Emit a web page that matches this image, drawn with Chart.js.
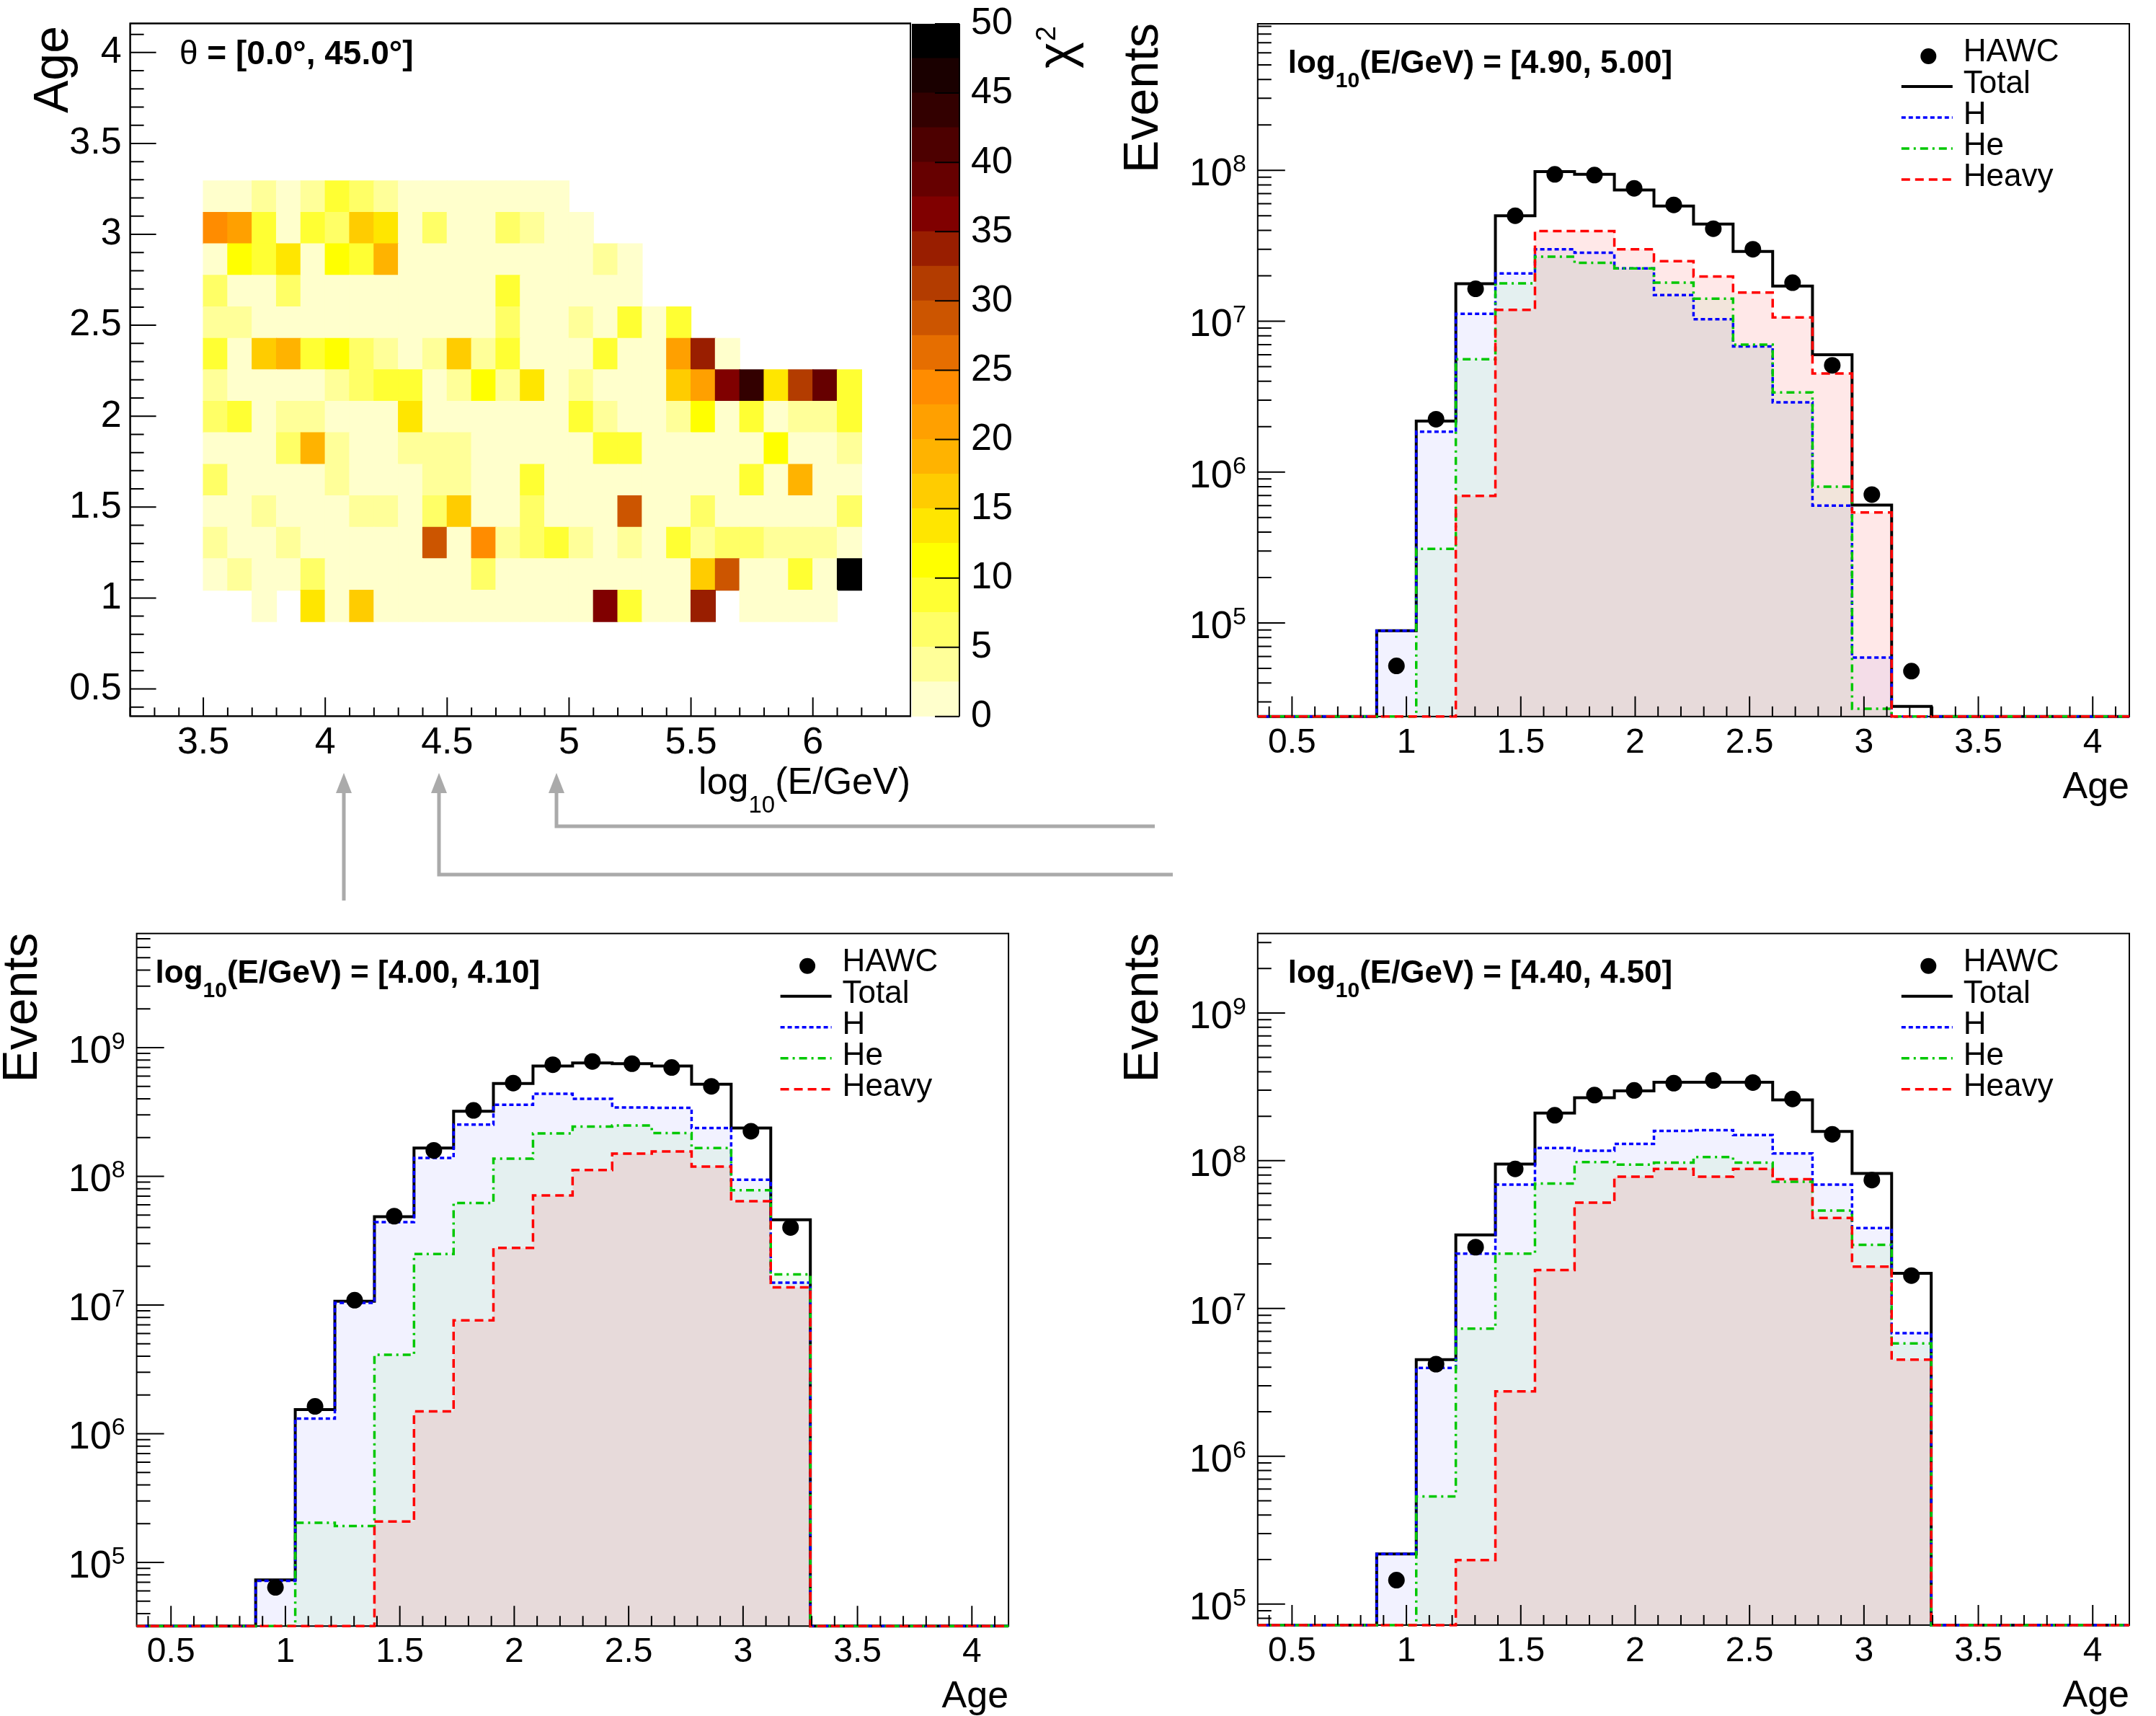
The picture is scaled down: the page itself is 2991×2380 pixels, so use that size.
<!DOCTYPE html>
<html>
<head>
<meta charset="utf-8">
<title>HAWC shower age: chi2 map and age distributions</title>
<script src="https://cdn.jsdelivr.net/npm/chart.js@4.4.1/dist/chart.umd.min.js"></script>
<style>
  html, body { margin: 0; padding: 0; background: #fff; }
  body { width: 2991px; height: 2380px; position: relative; overflow: hidden; }
  canvas { position: absolute; }
  svg { position: absolute; left: 0; top: 0; }
</style>
</head>
<body>
<canvas id="chi2Map" width="1265" height="1130" style="left:0;top:0"></canvas>
<canvas id="chi2Scale" width="300" height="1060" style="left:1265px;top:0"></canvas>
<canvas id="ageE490" width="1491" height="1150" style="left:1500px;top:0"></canvas>
<canvas id="ageE400" width="1450" height="1130" style="left:0;top:1250px"></canvas>
<canvas id="ageE440" width="1491" height="1130" style="left:1500px;top:1250px"></canvas>

<svg width="2991" height="2380">
  <g stroke="#aaaaaa" stroke-width="5" fill="none">
    <polyline points="477,1249 477,1096"/>
    <polyline points="1627,1213 609,1213 609,1096"/>
    <polyline points="1602,1146 772,1146 772,1096"/>
  </g>
  <g fill="#aaaaaa">
    <polygon points="477,1072 466,1100 488,1100"/>
    <polygon points="609,1072 598,1100 620,1100"/>
    <polygon points="772,1072 761,1100 783,1100"/>
  </g>
</svg>

<script>
// ---------- chi2 map ----------
const energyEdges = [3.5, 3.6, 3.7, 3.8, 3.9, 4.0, 4.1, 4.2, 4.3, 4.4, 4.5, 4.6, 4.7, 4.8, 4.9,
  5.0, 5.1, 5.2, 5.3, 5.4, 5.5, 5.6, 5.7, 5.8, 5.9, 6.0, 6.1, 6.2];
// shower age bins, shared by the map rows and the histograms
const ageEdges = [0.350, 0.523, 0.696, 0.870, 1.043, 1.216, 1.389, 1.562, 1.735, 1.909, 2.082, 2.255,
  2.428, 2.601, 2.775, 2.948, 3.121, 3.294, 3.467, 3.640, 3.814, 3.987, 4.160];
const mapFirstAgeBin = 3; // first map row is the 0.87-1.04 age bin

// chi2 per cell, one row per age bin (lowest first), one entry per energy bin, null = empty
const chi2Rows = [
  [null, null, 1, null, 14, 1, 16, 1, 1, 1, 1, 1, 1, 1, 1, 1, 36, 9, 1, 1, 34, null, 1, 1, 1, 1, null],
  [1, 4, 1, 1, 6, 1, 1, 1, 1, 1, 1, 6, 1, 1, 1, 1, 1, 1, 1, 1, 16, 29, 1, 1, 9, 1, 49],
  [4, 1, 1, 4, 1, 1, 1, 1, 1, 29, 1, 24, 4, 6, 9, 4, 1, 4, 1, 9, 4, 6, 6, 4, 4, 4, 1],
  [1, 1, 4, 1, 1, 1, 4, 4, 1, 6, 16, 1, 1, 6, 1, 1, 1, 29, 1, 1, 6, 1, 1, 1, 1, 1, 6],
  [6, 1, 1, 1, 1, 4, 1, 1, 1, 4, 4, 1, 1, 9, 1, 1, 1, 1, 1, 1, 1, 1, 9, 1, 19, 1, 1],
  [1, 1, 1, 6, 19, 4, 1, 1, 4, 4, 4, 1, 1, 1, 1, 1, 9, 9, 1, 1, 1, 1, 1, 11, 1, 1, 4],
  [6, 9, 1, 4, 4, 1, 1, 1, 14, 1, 1, 1, 1, 1, 1, 9, 4, 1, 1, 4, 11, 1, 9, 1, 4, 4, 9],
  [4, 1, 1, 1, 1, 4, 6, 9, 9, 1, 4, 11, 4, 14, 1, 4, 1, 1, 1, 16, 21, 36, 44, 14, 31, 39, 9],
  [9, 1, 16, 19, 9, 11, 6, 4, 1, 4, 16, 4, 9, 1, 1, 1, 9, 1, 1, 21, 34, 1],
  [4, 4, 1, 1, 1, 1, 1, 1, 1, 1, 1, 1, 6, 1, 1, 4, 1, 9, 1, 9],
  [6, 1, 1, 6, 1, 1, 1, 1, 1, 1, 1, 1, 9, 1, 1, 1, 1, 1],
  [1, 11, 9, 14, 1, 11, 9, 19, 1, 1, 1, 1, 1, 1, 1, 1, 4, 1],
  [24, 21, 9, 1, 9, 6, 16, 14, 1, 6, 1, 1, 6, 4, 1, 1],
  [1, 1, 4, 1, 4, 9, 6, 4, 1, 1, 1, 1, 1, 1, 1]
];
const chi2Levels = [0, 2.5, 5, 7.5, 10, 12.5, 15, 17.5, 20, 22.5, 25, 27.5, 30, 32.5, 35, 37.5, 40, 42.5, 45, 47.5, 50];
const chi2Palette = ['#ffffcc', '#ffff99', '#ffff66', '#ffff33', '#ffff00', '#ffe600', '#ffcc00', '#ffb300',
  '#ffa000', '#ff8c00', '#e66e00', '#cc5500', '#b33c00', '#991e00', '#800000', '#660000', '#4d0000',
  '#330000', '#1a0000', '#000000'];
const mapAgeTicks = [0.5, 1, 1.5, 2, 2.5, 3, 3.5, 4];
const mapEnergyTicks = [3.5, 4, 4.5, 5, 5.5, 6];
const chi2Ticks = [0, 5, 10, 15, 20, 25, 30, 35, 40, 45, 50];

// ---------- age histograms (events per age bin, 0 = empty bin) ----------
const histAgeTicks = [0.5, 1, 1.5, 2, 2.5, 3, 3.5, 4];

// log10(E/GeV) = [4.90, 5.00]
const hawcE490  = [null, null, null, 5.2e4, 2.24e6, 1.64e7, 5.0e7, 9.4e7, 9.3e7, 7.6e7, 5.9e7, 4.1e7, 3.0e7, 1.8e7, 5.1e6, 7.1e5, 4.8e4, null, null, null, null, null];
const totalE490 = [0, 0, 0, 8.9e4, 2.18e6, 1.77e7, 5.0e7, 9.8e7, 9.4e7, 7.4e7, 5.8e7, 4.4e7, 2.9e7, 1.71e7, 6.0e6, 6.05e5, 2.8e4, 0, 0, 0, 0, 0];
const hE490     = [0, 0, 0, 8.9e4, 1.85e6, 1.12e7, 2.07e7, 3.0e7, 2.84e7, 2.24e7, 1.49e7, 1.03e7, 6.8e6, 2.9e6, 6.0e5, 5.9e4, 0, 0, 0, 0, 0, 0];
const heE490    = [0, 0, 0, 0, 3.1e5, 5.6e6, 1.78e7, 2.68e7, 2.44e7, 2.24e7, 1.8e7, 1.41e7, 7.0e6, 3.37e6, 8.0e5, 2.7e4, 0, 0, 0, 0, 0, 0];
const heavyE490 = [0, 0, 0, 0, 0, 6.95e5, 1.19e7, 3.96e7, 3.96e7, 3.0e7, 2.5e7, 1.98e7, 1.55e7, 1.06e7, 4.5e6, 5.4e5, 0, 0, 0, 0, 0, 0];
const yRangeE490 = [2.4e4, 9.35e8];

// log10(E/GeV) = [4.00, 4.10]
const hawcE400  = [null, null, null, 6.4e4, 1.63e6, 1.09e7, 4.9e7, 1.59e8, 3.25e8, 5.3e8, 7.36e8, 7.8e8, 7.5e8, 7.0e8, 5.0e8, 2.24e8, 4.0e7, null, null, null, null, null];
const totalE400 = [0, 0, 0, 7.3e4, 1.54e6, 1.07e7, 4.86e7, 1.66e8, 3.2e8, 5.26e8, 7.2e8, 7.6e8, 7.5e8, 7.2e8, 5.2e8, 2.37e8, 4.6e7, 0, 0, 0, 0, 0];
const hE400     = [0, 0, 0, 7.2e4, 1.31e6, 1.04e7, 4.4e7, 1.39e8, 2.52e8, 3.6e8, 4.37e8, 4.0e8, 3.43e8, 3.4e8, 2.37e8, 9.4e7, 1.49e7, 0, 0, 0, 0, 0];
const heE400    = [0, 0, 0, 0, 2.03e5, 1.92e5, 4.1e6, 2.49e7, 6.2e7, 1.37e8, 2.15e8, 2.43e8, 2.48e8, 2.17e8, 1.66e8, 7.8e7, 1.73e7, 0, 0, 0, 0, 0];
const heavyE400 = [0, 0, 0, 0, 0, 0, 2.08e5, 1.49e6, 7.6e6, 2.78e7, 7.1e7, 1.12e8, 1.5e8, 1.56e8, 1.19e8, 6.4e7, 1.37e7, 0, 0, 0, 0, 0];
const yRangeE400 = [3.2e4, 7.7e9];

// log10(E/GeV) = [4.40, 4.50]
const hawcE440  = [null, null, null, 1.45e5, 4.2e6, 2.6e7, 8.8e7, 2.03e8, 2.78e8, 2.99e8, 3.35e8, 3.49e8, 3.38e8, 2.62e8, 1.51e8, 7.4e7, 1.67e7, null, null, null, null, null];
const totalE440 = [0, 0, 0, 2.18e5, 4.5e6, 3.15e7, 9.5e7, 2.1e8, 2.67e8, 2.97e8, 3.4e8, 3.4e8, 3.4e8, 2.58e8, 1.58e8, 8.2e7, 1.73e7, 0, 0, 0, 0, 0];
const hE440     = [0, 0, 0, 2.18e5, 3.96e6, 2.35e7, 6.9e7, 1.22e8, 1.17e8, 1.3e8, 1.59e8, 1.61e8, 1.49e8, 1.12e8, 6.9e7, 3.5e7, 6.8e6, 0, 0, 0, 0, 0];
const heE440    = [0, 0, 0, 0, 5.35e5, 7.3e6, 2.35e7, 7.0e7, 9.8e7, 9.4e7, 9.7e7, 1.06e8, 9.7e7, 7.2e7, 4.6e7, 2.7e7, 5.8e6, 0, 0, 0, 0, 0];
const heavyE440 = [0, 0, 0, 0, 0, 1.98e5, 2.75e6, 1.82e7, 5.2e7, 7.8e7, 8.8e7, 7.8e7, 8.8e7, 7.5e7, 4.1e7, 1.92e7, 4.5e6, 0, 0, 0, 0, 0];
const yRangeE440 = [7.2e4, 3.45e9];

// ---------- drawing ----------
const FONT = "'Liberation Sans', Arial, Helvetica, sans-serif";
Chart.defaults.font.family = FONT;
Chart.defaults.color = '#000';

const noGrid = { display: false, drawTicks: false };
const noBorder = { display: false };

function chi2Color(v) {
  let k = 0;
  while (k < chi2Palette.length - 1 && v >= chi2Levels[k + 1]) k++;
  return chi2Palette[k];
}

function linTicks(min, max, step, major) {
  const out = [];
  for (let k = Math.ceil(min / step - 1e-6); k * step <= max + 1e-6; k++) {
    const v = k * step;
    out.push({ v, major: Math.abs(v / major - Math.round(v / major)) < 1e-6 });
  }
  return out;
}

function logTicks(min, max) {
  const out = [];
  for (let d = Math.floor(Math.log10(min)); d <= Math.floor(Math.log10(max)); d++) {
    for (let m = 1; m <= 9; m++) {
      const v = m * Math.pow(10, d);
      if (v >= min && v <= max) out.push({ v, major: m === 1 });
    }
  }
  return out;
}

function drawRich(ctx, parts, x, y, align) {
  let w = 0;
  const ws = parts.map(p => { ctx.font = p.font; const m = ctx.measureText(p.t).width; w += m; return m; });
  let cx = align === 'right' ? x - w : x;
  ctx.textAlign = 'left';
  ctx.textBaseline = 'alphabetic';
  parts.forEach((p, i) => { ctx.font = p.font; ctx.fillText(p.t, cx, y + (p.dy || 0)); cx += ws[i]; });
}

function upTitle(ctx, text, xBase, yEnd, size) {
  ctx.save();
  ctx.translate(xBase, yEnd);
  ctx.rotate(-Math.PI / 2);
  ctx.font = size + 'px ' + FONT;
  ctx.textAlign = 'right';
  ctx.textBaseline = 'alphabetic';
  ctx.fillText(text, 0, 0);
  ctx.restore();
}

// ROOT-like frame: box under the data, inward tick marks on top
function framePlugin(cfg) {
  return {
    id: 'rootFrame',
    beforeDatasetsDraw(chart) {
      const { ctx, chartArea: a } = chart;
      ctx.save();
      ctx.strokeStyle = '#000';
      ctx.lineWidth = 2;
      ctx.strokeRect(a.left, a.top, a.right - a.left, a.bottom - a.top);
      ctx.restore();
    },
    afterDraw(chart) {
      const { ctx, chartArea: a, scales } = chart;
      const xs = scales.x, ys = scales.y;
      ctx.save();
      ctx.strokeStyle = '#000';
      ctx.lineWidth = 2;
      if (!cfg.logY) ctx.strokeRect(a.left, a.top, a.right - a.left, a.bottom - a.top);
      ctx.beginPath();
      linTicks(xs.min, xs.max, 0.1, 0.5).forEach(t => {
        const p = xs.getPixelForValue(t.v);
        ctx.moveTo(p, a.bottom);
        ctx.lineTo(p, a.bottom - (t.major ? cfg.xLen[0] : cfg.xLen[1]));
      });
      const yt = cfg.logY ? logTicks(ys.min, ys.max) : linTicks(ys.min, ys.max, 0.1, 0.5);
      yt.forEach(t => {
        const p = ys.getPixelForValue(t.v);
        ctx.moveTo(a.left, p);
        ctx.lineTo(a.left + (t.major ? cfg.yLen[0] : cfg.yLen[1]), p);
      });
      ctx.stroke();
      ctx.fillStyle = '#000';
      if (cfg.logY) {
        for (let d = Math.ceil(Math.log10(ys.min)); d <= Math.floor(Math.log10(ys.max)); d++) {
          const p = ys.getPixelForValue(Math.pow(10, d));
          drawRich(ctx, [
            { t: '10', font: '54px ' + FONT, dy: 21 },
            { t: String(d), font: '34px ' + FONT, dy: 2 }
          ], a.left - 16, p, 'right');
        }
      }
      if (cfg.decorate) cfg.decorate(ctx, a, chart);
      ctx.restore();
    }
  };
}

// ---- chi2 map ----
new Chart(document.getElementById('chi2Map'), {
  type: 'bar',
  data: {
    datasets: chi2Rows.map((row, r) => {
      const lo = ageEdges[r + mapFirstAgeBin], hi = ageEdges[r + mapFirstAgeBin + 1];
      return {
        label: 'Age ' + lo.toFixed(2) + '-' + hi.toFixed(2),
        data: row.map((v, c) => v == null ? null :
          { x: (energyEdges[c] + energyEdges[c + 1]) / 2, y: [lo, hi], v }).filter(Boolean),
        backgroundColor: ctx => (ctx.raw ? chi2Color(ctx.raw.v) : '#ffffff'),
        borderWidth: 0, borderSkipped: false, grouped: false,
        barPercentage: 1, categoryPercentage: 1, inflateAmount: 0.6
      };
    })
  },
  options: {
    responsive: false, animation: false, events: [], devicePixelRatio: 1,
    layout: { autoPadding: false, padding: { top: 32.5, right: 2, left: 0, bottom: 0 } },
    plugins: { legend: { display: false }, tooltip: { enabled: false } },
    scales: {
      x: {
        type: 'linear', min: 3.2, max: 6.4, offset: false, grid: noGrid, border: noBorder,
        ticks: { font: { size: 52 }, padding: 6, autoSkip: false, maxRotation: 0, callback: v => String(v) },
        afterBuildTicks: s => { s.ticks = mapEnergyTicks.map(v => ({ value: v })); },
        afterFit: s => { s.height = 136.7; s.paddingLeft = 0; s.paddingRight = 0; }
      },
      y: {
        type: 'linear', min: ageEdges[0], max: ageEdges[ageEdges.length - 1], grid: noGrid, border: noBorder,
        ticks: { font: { size: 52 }, padding: 12, autoSkip: false, callback: v => String(v) },
        afterBuildTicks: s => { s.ticks = mapAgeTicks.map(v => ({ value: v })); },
        afterFit: s => { s.width = 180.6; s.paddingTop = 0; s.paddingBottom = 0; }
      }
    }
  },
  plugins: [framePlugin({
    xLen: [26, 12], yLen: [36, 19],
    decorate(ctx, a) {
      drawRich(ctx, [
        { t: 'θ', font: '46px ' + FONT },
        { t: ' = [0.0°, 45.0°]', font: 'bold 46px ' + FONT }
      ], 249, 89);
      upTitle(ctx, 'Age', 94, 36, 68);
      drawRich(ctx, [
        { t: 'log', font: '52px ' + FONT },
        { t: '10', font: '33px ' + FONT, dy: 26 },
        { t: '(E/GeV)', font: '52px ' + FONT }
      ], a.right, a.bottom + 108, 'right');
    }
  })]
});

// ---- chi2 colour scale ----
new Chart(document.getElementById('chi2Scale'), {
  type: 'bar',
  data: {
    labels: ['chi2'],
    datasets: chi2Palette.map((c, k) => ({
      label: chi2Levels[k] + '-' + chi2Levels[k + 1],
      data: [[chi2Levels[k], chi2Levels[k + 1]]],
      backgroundColor: c, borderWidth: 0, grouped: false,
      barPercentage: 1, categoryPercentage: 1, inflateAmount: 0.6
    }))
  },
  options: {
    responsive: false, animation: false, events: [], devicePixelRatio: 1,
    layout: { autoPadding: false, padding: { top: 33, right: 0, left: 0, bottom: 66.2 } },
    plugins: { legend: { display: false }, tooltip: { enabled: false } },
    scales: {
      x: { display: false },
      y: {
        position: 'right', min: 0, max: 50, grid: noGrid, border: noBorder,
        ticks: { font: { size: 52 }, padding: 16, autoSkip: false, callback: v => String(v) },
        afterBuildTicks: s => { s.ticks = chi2Ticks.map(v => ({ value: v })); },
        afterFit: s => { s.width = 234; s.paddingTop = 0; s.paddingBottom = 0; }
      }
    }
  },
  plugins: [{
    id: 'chi2Axis',
    afterDraw(chart) {
      const { ctx, chartArea: a, scales: { y } } = chart;
      ctx.save();
      ctx.strokeStyle = '#000';
      ctx.lineWidth = 2;
      ctx.beginPath();
      ctx.moveTo(a.right, a.top);
      ctx.lineTo(a.right, a.bottom);
      chi2Ticks.forEach(v => {
        const p = y.getPixelForValue(v);
        ctx.moveTo(a.right, p);
        ctx.lineTo(a.right - 34, p);
      });
      ctx.stroke();
      // z axis title, reading upwards
      ctx.fillStyle = '#000';
      ctx.translate(223, 95);
      ctx.rotate(-Math.PI / 2);
      ctx.textAlign = 'left';
      ctx.font = '70px ' + FONT;
      ctx.fillText('χ', 0, 0);
      const w = ctx.measureText('χ').width;
      ctx.font = '38px ' + FONT;
      ctx.fillText('2', w + 1, -24);
      ctx.restore();
    }
  }]
});

// ---- age histograms ----
const legendOrder = ['HAWC', 'Total', 'H', 'He', 'Heavy'];
const legendRows = [40, 84, 127, 170, 213];

function drawLegend(ctx, a, chart) {
  const x0 = a.left + 893, x1 = a.left + 964, xt = a.left + 979;
  legendOrder.forEach((name, i) => {
    const ds = chart.data.datasets.find(d => d.label === name);
    const y = a.top + legendRows[i];
    if (name === 'HAWC') {
      ctx.fillStyle = '#000';
      ctx.beginPath();
      ctx.arc((x0 + x1) / 2 + 2, y + 5, 11, 0, Math.PI * 2);
      ctx.fill();
    } else {
      ctx.save();
      ctx.strokeStyle = ds.borderColor;
      ctx.lineWidth = ds.borderWidth;
      ctx.setLineDash(ds.borderDash);
      ctx.beginPath();
      ctx.moveTo(x0, y + 3);
      ctx.lineTo(x1, y + 3);
      ctx.stroke();
      ctx.restore();
    }
    ctx.fillStyle = '#000';
    ctx.font = '44px ' + FONT;
    ctx.textAlign = 'left';
    ctx.textBaseline = 'middle';
    ctx.fillText(name, xt, y);
  });
}

function makeHist(id, g, s) {
  const floor = g.yRange[0];
  const steps = vals => ageEdges.map((x, i) => ({ x, y: Math.max(vals[Math.min(i, vals.length - 1)], floor) }));
  const points = vals => vals.map((v, i) => (v == null ? null :
    { x: (ageEdges[i] + ageEdges[i + 1]) / 2, y: v })).filter(Boolean);
  const stepLine = (label, vals, color, width, dash, fillColor, order) => ({
    label, data: steps(vals), borderColor: color, borderWidth: width, borderDash: dash,
    backgroundColor: fillColor || 'transparent', fill: fillColor ? 'start' : false,
    stepped: true, pointRadius: 0, tension: 0, order, clip: 8
  });

  new Chart(document.getElementById(id), {
    type: 'line',
    data: {
      datasets: [
        { label: 'HAWC', data: points(s.hawc), showLine: false, pointRadius: 11.5, pointStyle: 'circle',
          pointBackgroundColor: '#000', pointBorderColor: '#000', pointBorderWidth: 0, order: 0, clip: 14 },
        stepLine('Heavy', s.heavy, '#ff0000', 3.5, [12, 7], 'rgba(255,0,0,0.09)', 1),
        stepLine('He', s.he, '#00c800', 3.5, [11, 6, 3, 6], 'rgba(0,200,0,0.06)', 2),
        stepLine('H', s.h, '#0000ff', 3.5, [6, 4], 'rgba(0,0,255,0.05)', 3),
        stepLine('Total', s.total, '#000000', 4, [], null, 4)
      ]
    },
    options: {
      responsive: false, animation: false, events: [], devicePixelRatio: 1,
      layout: { autoPadding: false, padding: { top: g.top, right: g.right, left: 0, bottom: 0 } },
      plugins: {
        legend: { display: false }, tooltip: { enabled: false },
        filler: { propagate: false, drawTime: 'beforeDatasetsDraw' }
      },
      scales: {
        x: {
          type: 'linear', min: ageEdges[0], max: ageEdges[ageEdges.length - 1], grid: noGrid, border: noBorder,
          ticks: { font: { size: 48 }, padding: 8, autoSkip: false, maxRotation: 0, callback: v => String(v) },
          afterBuildTicks: sc => { sc.ticks = histAgeTicks.map(v => ({ value: v })); },
          afterFit: sc => { sc.height = g.xh; sc.paddingLeft = 0; sc.paddingRight = 0; }
        },
        y: {
          type: 'logarithmic', min: g.yRange[0], max: g.yRange[1], grid: noGrid, border: noBorder,
          ticks: { display: false },
          afterFit: sc => { sc.width = g.left; sc.paddingTop = 0; sc.paddingBottom = 0; }
        }
      }
    },
    plugins: [framePlugin({
      logY: true, xLen: [28, 14], yLen: [38, 19],
      decorate(ctx, a, chart) {
        ctx.fillStyle = '#000';
        drawRich(ctx, [
          { t: 'log', font: 'bold 44px ' + FONT },
          { t: '10', font: 'bold 30px ' + FONT, dy: 20 },
          { t: '(E/GeV) = ' + g.range, font: 'bold 44px ' + FONT }
        ], a.left + g.titleDx, a.top + 68);
        drawLegend(ctx, a, chart);
        upTitle(ctx, 'Events', a.left - 139, a.top - 1, 68);
        ctx.fillStyle = '#000';
        ctx.font = '52px ' + FONT;
        ctx.textAlign = 'right';
        ctx.textBaseline = 'alphabetic';
        ctx.fillText('Age', a.right, a.bottom + 113);
      }
    })]
  });
}

makeHist('ageE490',
  { left: 244.8, right: 37, top: 33, xh: 156.2, yRange: yRangeE490, range: '[4.90, 5.00]', titleDx: 42 },
  { hawc: hawcE490, total: totalE490, h: hE490, he: heE490, heavy: heavyE490 });
makeHist('ageE400',
  { left: 189.6, right: 50.9, top: 44.7, xh: 124.7, yRange: yRangeE400, range: '[4.00, 4.10]', titleDx: 26 },
  { hawc: hawcE400, total: totalE400, h: hE400, he: heE400, heavy: heavyE400 });
makeHist('ageE440',
  { left: 244.8, right: 37, top: 44.7, xh: 126.1, yRange: yRangeE440, range: '[4.40, 4.50]', titleDx: 42 },
  { hawc: hawcE440, total: totalE440, h: hE440, he: heE440, heavy: heavyE440 });
</script>
</body>
</html>
